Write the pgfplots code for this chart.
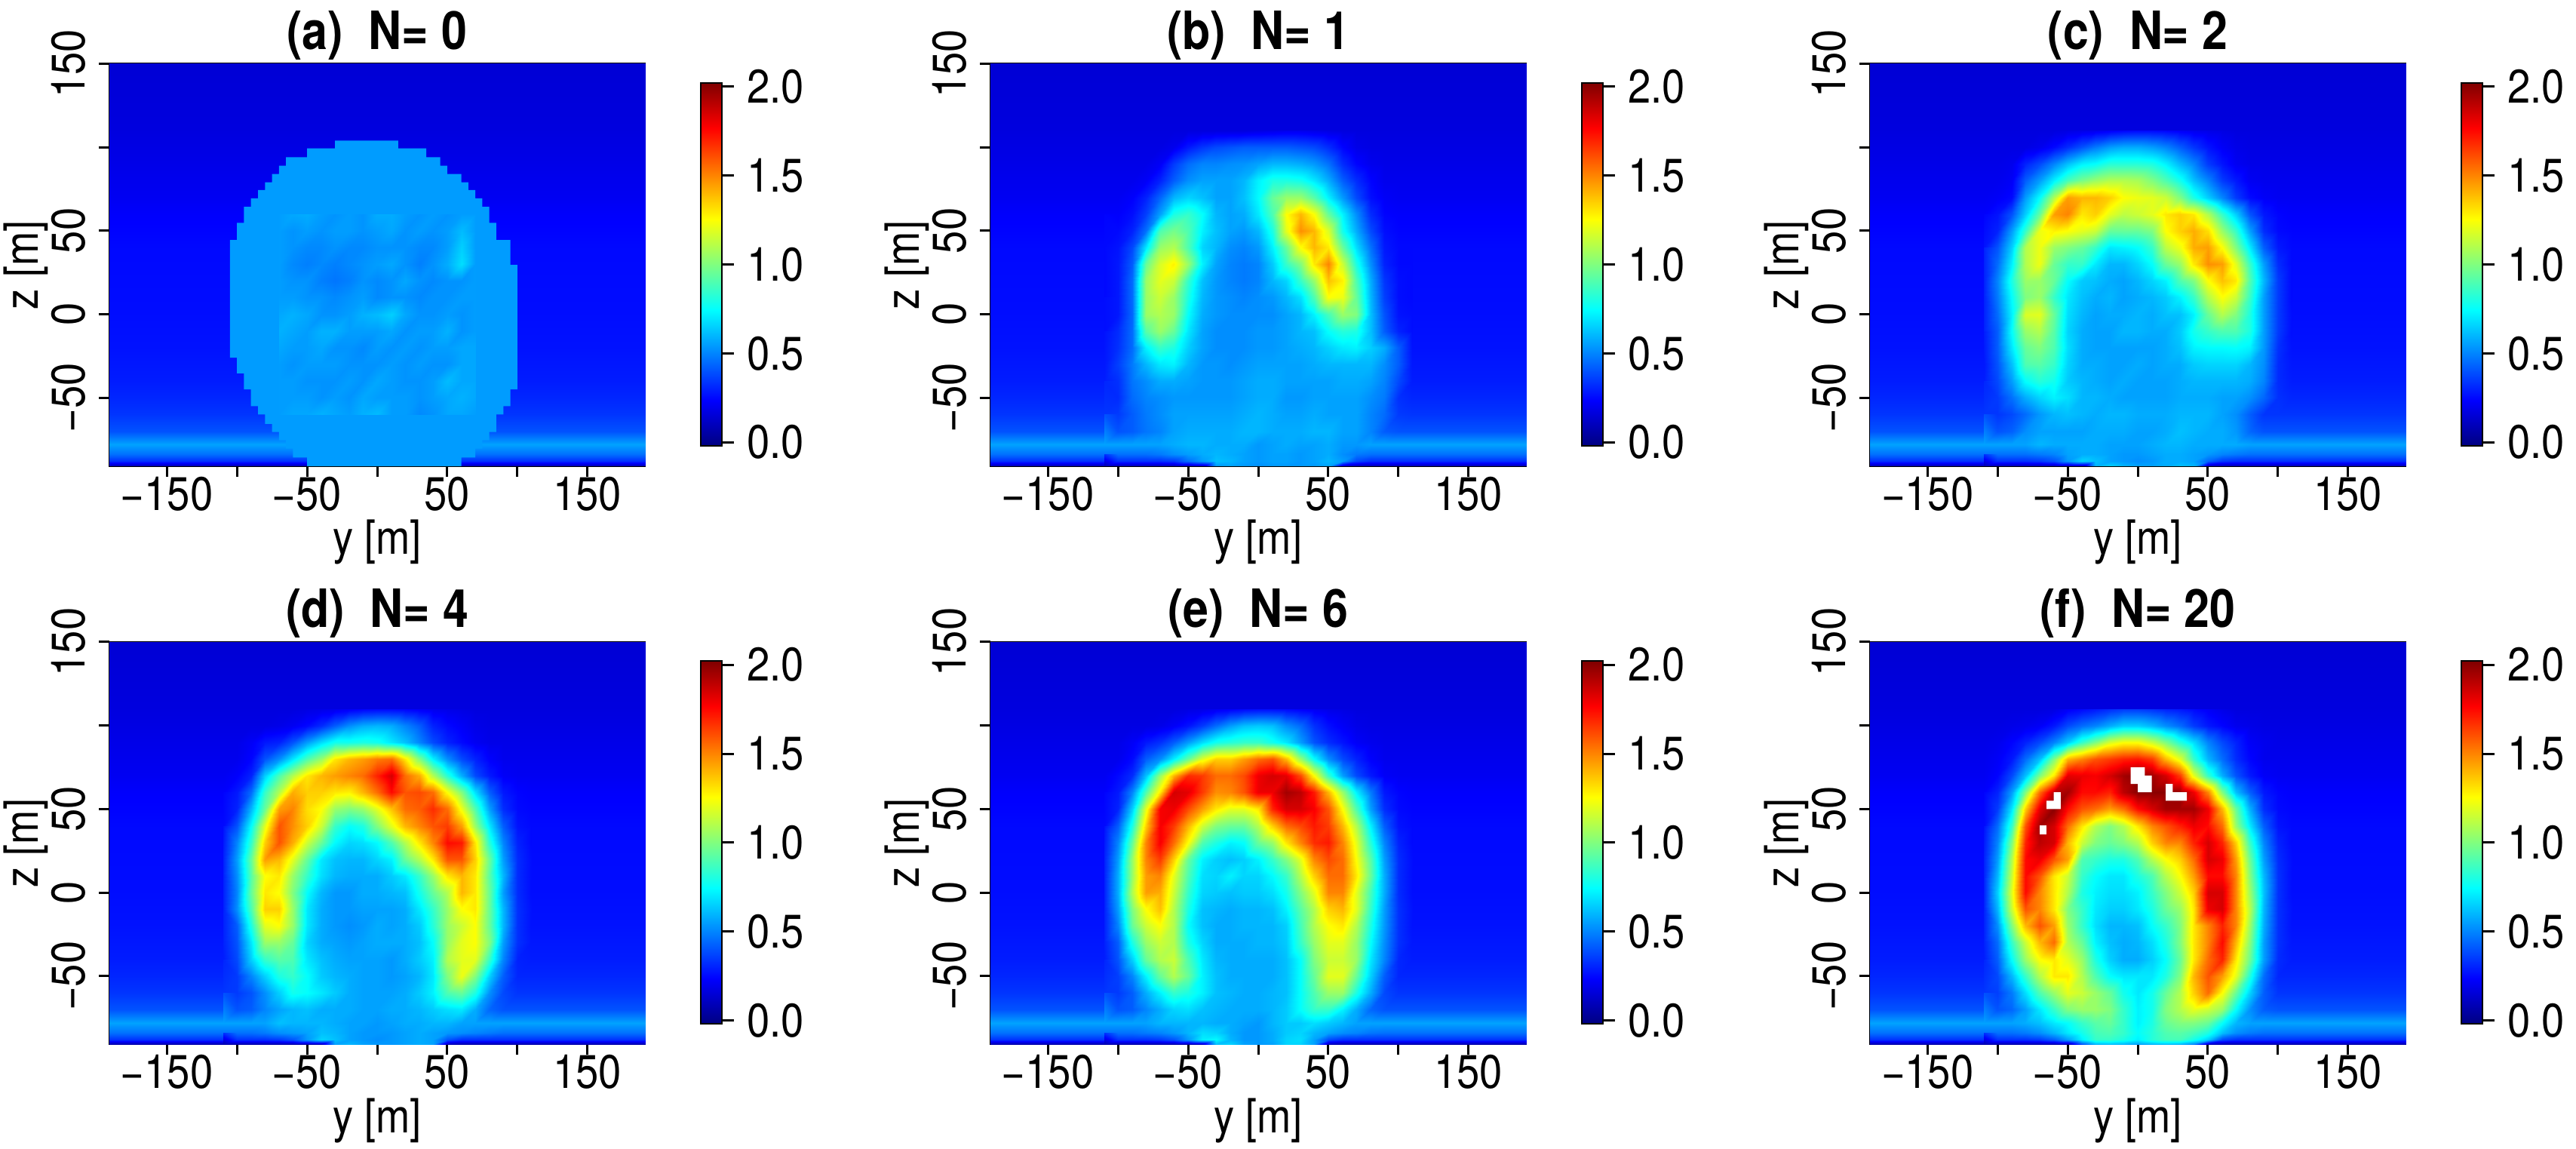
\documentclass[border=0pt]{standalone}
\usepackage{pgfplots}
\usepackage{pgfplotstable}
\usepackage{fontspec}
\setmainfont[FakeStretch=0.87]{TeX Gyre Heros}
\pgfplotsset{compat=1.18}

% background, depends on z only
\pgfplotstableread{
x y v
-191 150 15
191 150 15
-191 110 17
191 110 17
-191 100 18
191 100 18
-191 90 19
191 90 19
-191 80 20
191 80 20
-191 70 21
191 70 21
-191 60 23
191 60 23
-191 50 24
191 50 24
-191 40 25
191 40 25
-191 0 26
191 0 26
-191 -20 27
191 -20 27
-191 -30 28
191 -30 28
-191 -40 29
191 -40 29
-191 -50 31
191 -50 31
-191 -60 34
191 -60 34
-191 -70 40
191 -70 40
-191 -78 56
191 -78 56
-191 -84 46
191 -84 46
-191 -88 33
191 -88 33
-191 -91 7
191 -91 7
}\tabbg

% (a) inner texture of the disc, cols y=-70..70, rows z=60..-60
\pgfplotstableread[row sep=crcr]{
v\\
55\\57\\58\\55\\53\\55\\53\\58\\58\\55\\53\\55\\53\\55\\55\\
55\\53\\55\\53\\55\\55\\53\\55\\57\\53\\55\\53\\55\\61\\55\\
55\\53\\51\\51\\53\\51\\51\\53\\53\\53\\51\\51\\55\\65\\55\\
55\\51\\49\\51\\49\\51\\53\\55\\57\\53\\49\\53\\58\\68\\55\\
55\\53\\53\\49\\47\\49\\53\\51\\53\\57\\53\\51\\53\\53\\55\\
55\\55\\53\\53\\51\\53\\55\\51\\53\\53\\51\\53\\53\\55\\55\\
57\\59\\57\\53\\53\\55\\59\\61\\65\\57\\53\\53\\55\\53\\55\\
59\\57\\55\\59\\59\\55\\55\\55\\57\\53\\55\\55\\59\\53\\55\\
59\\55\\55\\57\\53\\53\\51\\55\\53\\55\\53\\55\\55\\57\\57\\
55\\53\\55\\55\\55\\53\\53\\53\\55\\53\\55\\53\\53\\57\\57\\
55\\55\\53\\53\\53\\55\\53\\57\\55\\53\\53\\55\\61\\57\\57\\
55\\55\\55\\53\\55\\53\\57\\55\\55\\55\\53\\55\\57\\59\\57\\
55\\57\\57\\59\\57\\55\\59\\61\\55\\55\\51\\53\\57\\57\\55\\
}\taba

% density x100, rows z=110..-70 then -78,-84,-88,-91; cols y=-110..110
\pgfplotstableread[row sep=crcr]{
v\\
17\\17\\17\\17\\17\\17\\17\\17\\17\\17\\17\\18\\19\\20\\20\\19\\18\\17\\17\\17\\17\\17\\17\\
18\\18\\18\\18\\18\\20\\28\\34\\38\\40\\42\\42\\42\\42\\40\\38\\32\\24\\19\\18\\18\\18\\18\\
19\\19\\19\\19\\22\\35\\45\\50\\50\\52\\53\\56\\60\\60\\58\\54\\46\\32\\24\\20\\19\\19\\19\\
20\\20\\20\\22\\30\\42\\52\\56\\56\\56\\60\\72\\80\\80\\78\\70\\58\\42\\32\\24\\20\\20\\20\\
21\\21\\23\\30\\44\\60\\66\\62\\56\\56\\62\\74\\95\\105\\105\\92\\72\\54\\38\\26\\22\\21\\21\\
23\\23\\26\\36\\56\\80\\85\\75\\60\\56\\58\\70\\90\\125\\140\\125\\95\\72\\52\\32\\24\\23\\23\\
24\\25\\30\\46\\90\\98\\90\\72\\62\\56\\54\\60\\80\\120\\148\\140\\118\\78\\58\\38\\26\\24\\24\\
25\\27\\38\\70\\105\\110\\90\\66\\60\\52\\50\\54\\72\\95\\125\\140\\130\\95\\68\\46\\28\\25\\25\\
25\\28\\42\\95\\118\\128\\105\\72\\56\\50\\48\\50\\64\\85\\100\\130\\150\\115\\80\\52\\30\\25\\25\\
25\\28\\45\\105\\120\\115\\85\\62\\54\\50\\48\\50\\60\\66\\85\\105\\138\\128\\90\\58\\34\\26\\25\\
25\\28\\45\\105\\115\\105\\80\\60\\54\\52\\50\\52\\54\\60\\68\\90\\125\\122\\95\\60\\36\\26\\25\\
26\\28\\44\\105\\110\\105\\75\\58\\54\\52\\52\\52\\52\\56\\60\\72\\88\\105\\100\\62\\40\\27\\26\\
26\\32\\45\\92\\105\\95\\70\\56\\52\\52\\52\\54\\54\\56\\60\\62\\75\\82\\80\\62\\42\\30\\26\\
27\\33\\45\\72\\85\\80\\65\\56\\52\\52\\52\\54\\54\\56\\58\\60\\65\\70\\72\\65\\58\\42\\27\\
28\\36\\48\\60\\70\\72\\60\\54\\54\\52\\54\\56\\56\\56\\56\\58\\60\\60\\60\\60\\52\\42\\28\\
29\\33\\47\\52\\58\\58\\56\\54\\54\\54\\56\\58\\58\\56\\56\\56\\56\\58\\58\\56\\50\\38\\29\\
31\\32\\45\\50\\52\\54\\54\\54\\54\\54\\56\\58\\58\\54\\54\\56\\56\\56\\56\\52\\48\\33\\31\\
34\\35\\42\\48\\52\\56\\56\\56\\56\\56\\58\\60\\58\\56\\56\\58\\56\\56\\56\\50\\45\\35\\34\\
40\\40\\42\\47\\50\\56\\58\\58\\58\\58\\60\\60\\58\\58\\58\\60\\60\\56\\56\\50\\42\\40\\40\\
56\\56\\56\\56\\56\\58\\60\\60\\58\\58\\58\\54\\56\\58\\56\\56\\58\\54\\54\\56\\56\\56\\56\\
46\\46\\46\\46\\48\\52\\55\\58\\60\\58\\56\\54\\56\\56\\54\\56\\58\\52\\48\\46\\46\\46\\46\\
33\\33\\33\\33\\33\\35\\46\\55\\62\\60\\56\\54\\56\\56\\54\\56\\60\\55\\38\\33\\33\\33\\33\\
7\\7\\7\\7\\7\\7\\7\\10\\54\\56\\54\\52\\54\\54\\54\\54\\56\\12\\7\\7\\7\\7\\7\\
}\tabb

\pgfplotstableread[row sep=crcr]{
v\\
17\\17\\17\\17\\17\\17\\18\\19\\20\\22\\24\\25\\25\\24\\22\\20\\19\\18\\17\\17\\17\\17\\17\\
18\\18\\18\\18\\20\\25\\32\\40\\48\\55\\58\\58\\55\\50\\42\\34\\27\\22\\19\\18\\18\\18\\18\\
19\\19\\20\\30\\38\\50\\62\\72\\75\\82\\82\\82\\80\\72\\60\\50\\35\\27\\21\\19\\19\\19\\19\\
20\\20\\22\\42\\55\\72\\88\\98\\105\\110\\110\\108\\100\\90\\78\\62\\50\\35\\28\\21\\20\\20\\20\\
21\\22\\25\\55\\75\\110\\145\\140\\140\\135\\125\\122\\120\\115\\100\\80\\65\\50\\35\\25\\22\\21\\21\\
23\\27\\40\\65\\95\\145\\150\\130\\135\\120\\112\\115\\120\\130\\135\\130\\110\\85\\65\\40\\28\\24\\23\\
24\\30\\55\\85\\122\\128\\125\\120\\115\\95\\95\\95\\100\\125\\135\\142\\132\\105\\85\\55\\32\\25\\24\\
27\\40\\65\\110\\122\\105\\100\\95\\85\\70\\72\\75\\85\\112\\122\\142\\145\\125\\100\\70\\42\\28\\25\\
30\\45\\72\\110\\122\\95\\85\\85\\70\\60\\60\\66\\75\\95\\105\\130\\148\\145\\120\\85\\55\\32\\25\\
30\\50\\80\\105\\105\\95\\75\\64\\62\\58\\56\\60\\66\\72\\90\\100\\125\\138\\130\\90\\60\\35\\25\\
30\\48\\75\\100\\105\\85\\70\\62\\58\\60\\56\\58\\60\\64\\72\\85\\110\\125\\115\\85\\55\\35\\25\\
30\\45\\72\\118\\120\\95\\68\\60\\56\\58\\58\\60\\58\\62\\62\\72\\95\\110\\100\\80\\55\\35\\26\\
30\\42\\75\\105\\110\\92\\66\\58\\56\\56\\60\\60\\58\\58\\64\\78\\85\\90\\90\\80\\55\\35\\26\\
29\\42\\70\\95\\100\\90\\68\\58\\56\\56\\56\\56\\56\\58\\62\\72\\74\\74\\75\\72\\54\\33\\27\\
28\\40\\62\\90\\92\\85\\66\\58\\58\\56\\56\\58\\56\\58\\58\\64\\66\\66\\66\\60\\52\\32\\28\\
29\\38\\55\\75\\82\\78\\64\\60\\58\\56\\58\\56\\56\\56\\58\\60\\60\\60\\60\\58\\50\\32\\29\\
31\\35\\46\\58\\66\\72\\68\\60\\60\\58\\56\\56\\56\\56\\58\\58\\58\\56\\56\\52\\44\\33\\31\\
34\\34\\38\\45\\54\\60\\62\\60\\58\\60\\60\\58\\58\\58\\60\\60\\60\\56\\52\\42\\34\\34\\34\\
40\\40\\43\\52\\56\\56\\56\\56\\58\\58\\58\\56\\56\\58\\62\\60\\58\\58\\54\\44\\40\\40\\40\\
56\\56\\56\\56\\60\\58\\58\\58\\58\\56\\56\\56\\58\\60\\60\\58\\58\\58\\58\\56\\56\\56\\56\\
46\\46\\46\\46\\48\\50\\56\\58\\58\\56\\54\\54\\56\\58\\58\\56\\54\\50\\48\\46\\46\\46\\46\\
33\\33\\33\\33\\35\\40\\54\\66\\62\\56\\54\\52\\54\\58\\58\\56\\44\\35\\33\\33\\33\\33\\33\\
7\\7\\7\\7\\7\\7\\7\\8\\60\\66\\60\\56\\56\\58\\62\\60\\10\\7\\7\\7\\7\\7\\7\\
}\tabc

\pgfplotstableread[row sep=crcr]{
v\\
17\\17\\17\\17\\17\\17\\18\\19\\20\\22\\24\\25\\25\\24\\22\\20\\19\\18\\17\\17\\17\\17\\17\\
18\\18\\18\\18\\19\\21\\25\\32\\42\\52\\58\\60\\58\\50\\42\\30\\25\\22\\19\\18\\18\\18\\18\\
19\\19\\22\\28\\30\\40\\55\\68\\78\\78\\80\\78\\70\\62\\50\\38\\30\\25\\21\\19\\19\\19\\19\\
20\\20\\24\\40\\52\\70\\90\\105\\130\\140\\145\\152\\155\\130\\100\\72\\52\\38\\30\\23\\20\\20\\20\\
21\\23\\30\\65\\90\\110\\130\\140\\145\\150\\155\\170\\185\\155\\142\\110\\82\\58\\38\\28\\22\\21\\21\\
23\\28\\45\\85\\110\\142\\135\\135\\130\\128\\140\\155\\175\\160\\162\\155\\125\\100\\68\\42\\28\\24\\23\\
24\\30\\60\\95\\145\\150\\132\\125\\105\\100\\105\\120\\138\\155\\158\\168\\155\\122\\90\\55\\32\\25\\24\\
25\\40\\75\\120\\160\\148\\135\\115\\85\\75\\80\\100\\120\\140\\150\\160\\165\\145\\105\\70\\42\\27\\25\\
27\\50\\85\\135\\160\\142\\115\\95\\74\\66\\68\\74\\90\\110\\130\\150\\175\\172\\130\\82\\50\\30\\25\\
30\\55\\95\\145\\140\\120\\95\\70\\62\\60\\60\\66\\72\\95\\110\\130\\160\\160\\135\\95\\55\\32\\26\\
30\\52\\92\\125\\130\\105\\85\\68\\60\\58\\58\\58\\64\\70\\85\\105\\130\\140\\130\\92\\60\\32\\26\\
30\\50\\95\\130\\125\\100\\75\\60\\54\\54\\58\\58\\60\\62\\78\\95\\110\\140\\130\\95\\55\\32\\26\\
30\\52\\90\\135\\135\\105\\70\\58\\54\\54\\56\\56\\56\\58\\70\\85\\105\\125\\130\\95\\60\\33\\27\\
30\\42\\80\\120\\125\\105\\70\\58\\54\\52\\54\\58\\56\\58\\64\\82\\105\\115\\125\\95\\60\\33\\27\\
30\\40\\70\\105\\105\\95\\66\\58\\56\\54\\56\\58\\58\\58\\62\\75\\105\\120\\125\\100\\55\\33\\28\\
29\\38\\65\\85\\92\\90\\70\\62\\58\\56\\56\\56\\54\\58\\64\\72\\110\\120\\120\\85\\50\\30\\29\\
31\\35\\50\\65\\80\\85\\75\\64\\60\\58\\56\\56\\54\\56\\60\\70\\100\\122\\100\\65\\42\\31\\31\\
34\\35\\40\\52\\65\\78\\75\\70\\64\\58\\56\\56\\56\\58\\64\\72\\90\\95\\80\\52\\38\\34\\34\\
40\\40\\42\\50\\56\\60\\62\\58\\58\\58\\56\\56\\58\\58\\60\\64\\68\\70\\58\\44\\40\\40\\40\\
56\\56\\56\\56\\62\\60\\60\\60\\58\\56\\56\\54\\56\\58\\58\\60\\60\\56\\56\\56\\56\\56\\56\\
46\\46\\46\\48\\52\\54\\56\\62\\60\\56\\54\\54\\54\\56\\58\\56\\54\\52\\50\\48\\46\\46\\46\\
33\\33\\33\\33\\35\\40\\54\\66\\62\\56\\54\\52\\54\\56\\58\\56\\40\\33\\33\\33\\33\\33\\33\\
7\\7\\7\\7\\7\\7\\7\\10\\56\\60\\56\\54\\54\\56\\58\\56\\10\\7\\7\\7\\7\\7\\7\\
}\tabd

\pgfplotstableread[row sep=crcr]{
v\\
17\\17\\17\\17\\17\\17\\18\\19\\21\\23\\25\\26\\26\\25\\23\\21\\19\\18\\17\\17\\17\\17\\17\\
18\\18\\18\\18\\19\\22\\27\\35\\45\\55\\62\\64\\62\\52\\45\\33\\26\\22\\19\\18\\18\\18\\18\\
19\\19\\22\\28\\33\\42\\55\\68\\78\\82\\85\\85\\78\\70\\55\\40\\32\\27\\22\\20\\19\\19\\19\\
20\\20\\25\\42\\52\\72\\95\\120\\135\\135\\145\\155\\160\\140\\105\\75\\52\\38\\30\\23\\20\\20\\20\\
21\\25\\32\\62\\105\\140\\168\\165\\155\\155\\162\\180\\185\\182\\162\\125\\85\\55\\38\\28\\22\\21\\21\\
23\\28\\50\\90\\130\\185\\182\\165\\148\\150\\160\\180\\180\\195\\190\\172\\140\\105\\72\\48\\28\\24\\23\\
24\\30\\65\\120\\178\\180\\162\\145\\130\\120\\120\\130\\170\\185\\185\\178\\160\\125\\90\\55\\32\\25\\24\\
25\\42\\80\\135\\178\\165\\140\\115\\100\\95\\95\\110\\135\\155\\162\\172\\165\\140\\110\\72\\42\\27\\25\\
27\\50\\95\\150\\178\\155\\125\\90\\80\\72\\75\\95\\105\\130\\150\\168\\172\\150\\120\\82\\50\\30\\25\\
30\\55\\105\\150\\165\\135\\95\\72\\65\\62\\65\\72\\85\\100\\120\\150\\162\\155\\125\\92\\55\\32\\26\\
30\\58\\105\\145\\150\\120\\90\\68\\66\\72\\66\\66\\74\\85\\110\\135\\155\\155\\130\\95\\58\\32\\26\\
30\\58\\110\\145\\142\\115\\85\\66\\64\\62\\64\\64\\68\\78\\100\\120\\150\\150\\120\\88\\58\\32\\26\\
30\\55\\100\\125\\138\\110\\80\\62\\60\\58\\60\\60\\62\\72\\92\\110\\135\\140\\120\\85\\55\\33\\27\\
30\\50\\95\\115\\125\\110\\75\\62\\58\\58\\60\\60\\60\\65\\88\\110\\125\\130\\110\\80\\54\\33\\27\\
30\\42\\80\\105\\115\\110\\80\\66\\58\\58\\58\\60\\60\\64\\85\\105\\120\\120\\105\\75\\52\\33\\28\\
29\\40\\65\\95\\110\\115\\90\\70\\60\\58\\58\\58\\58\\62\\75\\100\\115\\115\\105\\70\\50\\31\\29\\
31\\36\\50\\72\\95\\110\\95\\72\\62\\58\\58\\58\\58\\62\\75\\95\\120\\120\\95\\65\\42\\31\\31\\
34\\35\\42\\58\\72\\85\\80\\72\\62\\60\\58\\58\\60\\62\\75\\90\\105\\105\\80\\58\\38\\34\\34\\
40\\40\\42\\50\\58\\66\\68\\62\\60\\58\\58\\58\\60\\64\\75\\85\\85\\72\\58\\44\\40\\40\\40\\
56\\56\\56\\56\\60\\60\\60\\60\\58\\58\\56\\54\\60\\64\\64\\68\\64\\60\\56\\56\\56\\56\\56\\
46\\46\\46\\48\\50\\54\\60\\68\\66\\58\\54\\54\\58\\64\\66\\60\\56\\52\\50\\47\\46\\46\\46\\
33\\33\\33\\33\\35\\40\\54\\72\\74\\60\\54\\54\\58\\66\\68\\56\\38\\33\\33\\33\\33\\33\\33\\
7\\7\\7\\7\\7\\7\\7\\12\\62\\66\\56\\54\\56\\66\\66\\56\\10\\7\\7\\7\\7\\7\\7\\
}\tabe

\pgfplotstableread[row sep=crcr]{
v\\
17\\17\\17\\17\\17\\18\\22\\25\\28\\32\\35\\35\\33\\30\\28\\25\\22\\19\\17\\17\\17\\17\\17\\
18\\18\\19\\20\\22\\28\\38\\45\\50\\58\\65\\65\\60\\52\\45\\35\\28\\24\\20\\19\\18\\18\\18\\
19\\20\\24\\30\\38\\50\\65\\85\\100\\118\\125\\125\\115\\100\\82\\68\\50\\38\\30\\22\\20\\19\\19\\
20\\22\\28\\45\\62\\100\\140\\150\\160\\165\\170\\172\\165\\140\\120\\85\\60\\45\\32\\24\\20\\20\\20\\
21\\24\\38\\62\\100\\130\\182\\180\\178\\185\\195\\200\\195\\185\\165\\120\\85\\58\\40\\28\\22\\21\\21\\
23\\30\\55\\100\\155\\190\\195\\175\\175\\170\\190\\200\\200\\200\\198\\180\\150\\100\\62\\42\\28\\24\\23\\
24\\35\\70\\135\\182\\200\\175\\160\\155\\145\\155\\175\\185\\195\\195\\195\\180\\140\\95\\58\\32\\25\\24\\
25\\45\\85\\160\\195\\185\\155\\130\\110\\100\\110\\130\\150\\160\\170\\180\\175\\155\\105\\70\\42\\27\\25\\
27\\50\\100\\170\\190\\185\\140\\115\\100\\95\\100\\110\\135\\150\\150\\170\\185\\170\\135\\85\\50\\30\\25\\
30\\55\\110\\175\\180\\160\\145\\90\\85\\80\\80\\90\\110\\125\\135\\155\\185\\180\\145\\95\\55\\32\\26\\
30\\60\\115\\175\\160\\130\\115\\85\\75\\70\\70\\80\\90\\110\\125\\145\\175\\175\\150\\100\\60\\33\\26\\
30\\65\\120\\175\\150\\130\\110\\80\\72\\68\\68\\72\\85\\100\\115\\135\\185\\185\\150\\105\\62\\33\\26\\
30\\60\\115\\160\\150\\130\\100\\85\\70\\65\\65\\70\\80\\95\\105\\130\\180\\185\\150\\110\\60\\33\\27\\
30\\52\\100\\140\\160\\145\\105\\85\\68\\60\\60\\62\\75\\85\\100\\130\\150\\170\\150\\105\\58\\33\\27\\
30\\45\\85\\115\\140\\155\\110\\95\\72\\62\\58\\60\\68\\80\\100\\130\\150\\175\\140\\100\\55\\33\\28\\
29\\42\\75\\105\\125\\130\\120\\105\\80\\65\\58\\58\\65\\75\\95\\130\\155\\170\\130\\95\\55\\32\\29\\
31\\38\\60\\85\\110\\130\\130\\110\\90\\75\\70\\70\\70\\80\\100\\140\\160\\145\\120\\80\\45\\31\\31\\
34\\36\\48\\68\\90\\105\\120\\115\\105\\95\\78\\70\\78\\95\\110\\135\\155\\125\\95\\65\\42\\34\\34\\
40\\40\\44\\55\\70\\85\\100\\105\\105\\100\\85\\72\\78\\100\\110\\120\\115\\105\\75\\52\\42\\40\\40\\
56\\56\\56\\58\\62\\70\\75\\85\\92\\95\\85\\72\\80\\95\\100\\100\\95\\75\\60\\56\\56\\56\\56\\
46\\46\\46\\48\\52\\60\\70\\78\\88\\90\\85\\75\\82\\90\\92\\88\\80\\62\\52\\48\\46\\46\\46\\
33\\33\\33\\33\\35\\42\\55\\72\\85\\85\\80\\72\\82\\88\\88\\78\\65\\38\\33\\33\\33\\33\\33\\
7\\7\\7\\7\\7\\7\\7\\40\\60\\62\\60\\55\\60\\62\\60\\50\\12\\7\\7\\7\\7\\7\\7\\
}\tabf

\definecolor{discblue}{rgb}{0,0.61,1}

\pgfplotsset{
  heat/.style={
    at={(#1)}, anchor=south west, scale only axis,
    width=142pt, height=106.7pt,
    xmin=-191, xmax=191, ymin=-91, ymax=150,
    axis line style={line width=0.4pt},
    tick align=outside, major tick length=2.8pt, tick style={black,line width=0.6pt},
    xtick={-150,-100,...,150},
    xticklabels={−150,,−50,,50,,150},
    ytick={-50,0,...,150},
    yticklabels={−50,0,50,,150},
    xtick pos=bottom, ytick pos=left,
    yticklabel style={rotate=90,anchor=south,font=\fontsize{12.5}{12.5}\selectfont},
    xticklabel style={font=\fontsize{12.5}{12.5}\selectfont,yshift=3.5pt},
    xlabel={y [m]}, ylabel={z [m]},
    label style={font=\fontsize{12.5}{12.5}\selectfont},
    xlabel style={yshift=4.5pt},
    ylabel style={yshift=-6pt},
    title style={font=\bfseries\fontsize{14}{14}\selectfont,yshift=-8.5pt},
    colormap/jet, point meta min=-0.02, point meta max=2.02,
    colorbar,
    colorbar style={
      at={(1.1042,0.0506)}, anchor=south west,
      scale only axis, width=5.5pt, height=96.2pt,
      ytick={0,0.5,1,1.5,2}, yticklabels={0.0,0.5,1.0,1.5,2.0},
      ytick pos=right, yticklabel pos=right,
      tick align=outside, major tick length=3.2pt,
      tick style={black,line width=0.6pt},
      yticklabel style={font=\fontsize{12.5}{12.5}\selectfont},
      title={}, xlabel={}, ylabel={},
    },
    declare function={zz(\r)=(\r<19)*(110-10*\r)+(\r==19)*(-78)+(\r==20)*(-84)+(\r==21)*(-88)+(\r==22)*(-91);},
  },
  bglayer/.style={surf,shader=interp,mesh/cols=2,point meta=\thisrow{v}/100},
  detail/.style={surf,shader=interp,mesh/cols=23,point meta=\thisrow{v}/100},
}
\newcommand\bgplot{\addplot[bglayer] table[x=x,y=y] {\tabbg};}
\newcommand\detailplot[1]{\addplot[detail] table[x index=0, y index=0, x expr={-110+10*mod(\coordindex,23)}, y expr={zz(floor(\coordindex/23))}] {#1};}

\begin{document}
\begin{tikzpicture}[x=1pt,y=1pt]
\path[use as bounding box] (0,0) rectangle (683pt,304.6pt);

\begin{axis}[heat={29pt,181pt}, title={(a)\ \ N= 0}]
\bgplot
\addplot[fill=discblue,draw=none] coordinates {
(-30,104)(15,104)(15,99.3)(35,99.3)(35,94)(45,94)(45,89)(50,89)(50,84)(60,84)(60,79)(65,79)(65,74.4)(70,74.4)(70,69.4)(75,69.4)(75,64.3)(80,64.3)(80,54.7)(85,54.7)(85,44.4)(95,44.4)(95,29.5)(100,29.5)
(100,-45)(95,-45)(95,-55)(90,-55)(90,-60)(85,-60)(85,-70.5)(80,-70.5)(80,-75.5)(75,-75.5)(75,-80.5)(70,-80.5)(70,-85.8)(60,-85.8)(60,-91)
(-50,-91)(-50,-85.8)(-60,-85.8)(-60,-80.5)(-65,-80.5)(-65,-75.5)(-70,-75.5)(-70,-70.5)(-75,-70.5)(-75,-65.6)(-80,-65.6)(-80,-60)(-85,-60)(-85,-55)(-90,-55)(-90,-45)(-95,-45)(-95,-35.4)(-100,-35.4)(-100,-26)(-105,-26)
(-105,44.4)(-100,44.4)(-100,54.7)(-95,54.7)(-95,64.3)(-90,64.3)(-90,69.4)(-85,69.4)(-85,74.4)(-80,74.4)(-80,79)(-75,79)(-75,84)(-70,84)(-70,89)(-65,89)(-65,94)(-50,94)(-50,99.3)(-30,99.3)
} --cycle;
\addplot[surf,shader=interp,mesh/cols=15,point meta=\thisrow{v}/100] table[x index=0, y index=0, x expr={-70+10*mod(\coordindex,15)}, y expr={60-10*floor(\coordindex/15)}] {\taba};
\end{axis}

\begin{axis}[heat={262.6pt,181pt}, title={(b)\ \ N= 1}]
\bgplot
\detailplot{\tabb}
\end{axis}

\begin{axis}[heat={495.8pt,181pt}, title={(c)\ \ N= 2}]
\bgplot
\detailplot{\tabc}
\end{axis}

\begin{axis}[heat={29pt,27.7pt}, title={(d)\ \ N= 4}]
\bgplot
\detailplot{\tabd}
\end{axis}

\begin{axis}[heat={262.6pt,27.7pt}, title={(e)\ \ N= 6}]
\bgplot
\detailplot{\tabe}
\end{axis}

\begin{axis}[heat={495.8pt,27.7pt}, title={(f)\ \ N= 20}]
\bgplot
\detailplot{\tabf}
\addplot[fill=white,draw=none] coordinates {(-60,60)(-55,60)(-55,50)(-65,50)(-65,55)(-60,55)} --cycle;
\addplot[fill=white,draw=none] coordinates {(-70,40)(-65,40)(-65,35)(-70,35)} --cycle;
\addplot[fill=white,draw=none] coordinates {(-5,75)(5,75)(5,70)(10,70)(10,60)(0,60)(0,65)(-5,65)} --cycle;
\addplot[fill=white,draw=none] coordinates {(20,65)(25,65)(25,60)(35,60)(35,55)(20,55)} --cycle;
\end{axis}
\end{tikzpicture}
\end{document}
